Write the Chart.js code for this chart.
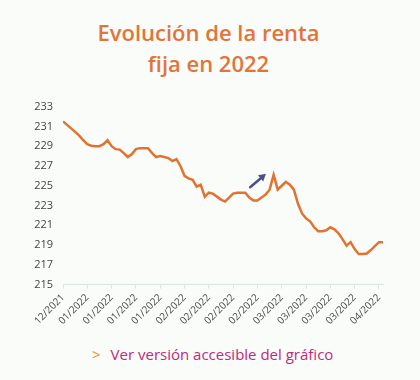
<!DOCTYPE html>
<html>
<head>
<meta charset="utf-8">
<script src="https://cdn.jsdelivr.net/npm/chart.js@4"></script>
<style>
  html, body { margin:0; padding:0; }
  body { width:420px; height:380px; background:#fafcf9; position:relative; overflow:hidden; font-family:"Open Sans", sans-serif; }
  #title { position:absolute; left:0; width:417px; top:17px; text-align:center; color:#e2743a; font-size:22px; line-height:31px; font-weight:600; }
  #box { position:absolute; left:0; top:90px; width:400px; height:240px; }
  #link { position:absolute; left:92px; top:344px; font-size:15px; color:#bf2a7c; }
  #link span { color:#f08a3c; margin-right:10px; }
</style>
</head>
<body>
<div id="title">Evolución de la renta<br>fija en 2022</div>
<div id="box"><canvas id="c"></canvas></div>
<div id="link"><span>&gt;</span>Ver versión accesible del gráfico</div>
<script>
  const tickLabels = ['12/2021','01/2022','01/2022','01/2022','01/2022','02/2022','02/2022','02/2022','02/2022','03/2022','03/2022','03/2022','03/2022','04/2022'];
  const values = [
    231.5, 231.15, 230.8, 230.45, 230.07, 229.6, 229.2, 229.05, 229.0, 229.0,
    229.2, 229.6, 229.0, 228.7, 228.65, 228.3, 227.9, 228.2, 228.7, 228.8,
    228.8, 228.8, 228.3, 227.9, 228.0, 227.9, 227.8, 227.5, 227.7, 227.0,
    226.0, 225.75, 225.6, 224.9, 225.1, 223.9, 224.3, 224.2, 223.9, 223.6,
    223.4, 223.8, 224.2, 224.3, 224.3, 224.3, 223.8, 223.5, 223.5, 223.8,
    224.1, 224.6, 226.1, 224.6, 225.0, 225.4, 225.1, 224.6, 223.2, 222.2,
    221.7, 221.4, 220.8, 220.4, 220.4, 220.5, 220.8, 220.6, 220.2, 219.6,
    218.95, 219.3, 218.6, 218.1, 218.1, 218.15, 218.5, 218.9, 219.3, 219.3
  ];
  const yTicks = [215,217,219,221,223,225,227,229,231,233];
  const tickEvery = 6;
  // arrow drawn in data units: [index, value]
  const arrowFrom = [46.2, 224.85];
  const arrowTo   = [50.1, 226.2];

  const points = values.map((v,i)=>({x:i, y:v}));

  const arrowPlugin = {
    id:'arrow',
    afterDatasetsDraw(chart){
      const xs = chart.scales.x, ys = chart.scales.y, ctx = chart.ctx;
      const x1 = xs.getPixelForValue(arrowFrom[0]), y1 = ys.getPixelForValue(arrowFrom[1]);
      const x2 = xs.getPixelForValue(arrowTo[0]),   y2 = ys.getPixelForValue(arrowTo[1]);
      const a = Math.atan2(y2-y1, x2-x1);
      ctx.save();
      ctx.strokeStyle = '#4b4f8e'; ctx.fillStyle = '#4b4f8e';
      ctx.lineWidth = 2.5; ctx.lineCap = 'round';
      ctx.beginPath();
      ctx.moveTo(x1,y1);
      ctx.lineTo(x2 - 4*Math.cos(a), y2 - 4*Math.sin(a));
      ctx.stroke();
      ctx.beginPath();
      ctx.moveTo(x2,y2);
      ctx.lineTo(x2 - 7*Math.cos(a) + 4*Math.sin(a), y2 - 7*Math.sin(a) - 4*Math.cos(a));
      ctx.lineTo(x2 - 7*Math.cos(a) - 4*Math.sin(a), y2 - 7*Math.sin(a) + 4*Math.cos(a));
      ctx.closePath();
      ctx.fill();
      ctx.restore();
    }
  };

  new Chart(document.getElementById('c'), {
    type:'line',
    data:{ datasets:[{
      data: points,
      borderColor:'#e2722f',
      borderWidth:2.5,
      pointRadius:0,
      tension:0,
      fill:false
    }]},
    options:{
      responsive:true, maintainAspectRatio:false, animation:false,
      layout:{ padding:{ top:3, right:17, left:0, bottom:0 } },
      plugins:{ legend:{display:false}, tooltip:{enabled:false} },
      scales:{
        x:{
          type:'linear', min:0, max:values.length-1,
          afterBuildTicks: s => { s.ticks = tickLabels.map((t,i)=>({value:i*tickEvery})); },
          grid:{ drawOnChartArea:false, color:'#dde5e2', tickLength:4 },
          border:{ color:'#dde5e2' },
          ticks:{ autoSkip:false, maxRotation:45, minRotation:45, color:'#4a4a4a',
                  font:{ family:'Open Sans', size:10 },
                  callback: v => tickLabels[Math.round(v/tickEvery)] }
        },
        y:{
          min:215, max:233,
          afterBuildTicks: s => { s.ticks = yTicks.map(v=>({value:v})); },
          afterFit: s => { s.width = 63; },
          grid:{ display:false, drawTicks:false },
          border:{ display:false },
          ticks:{ padding:10, color:'#444', font:{ family:'Open Sans', size:11 } }
        }
      }
    },
    plugins:[arrowPlugin]
  });
</script>
</body>
</html>
